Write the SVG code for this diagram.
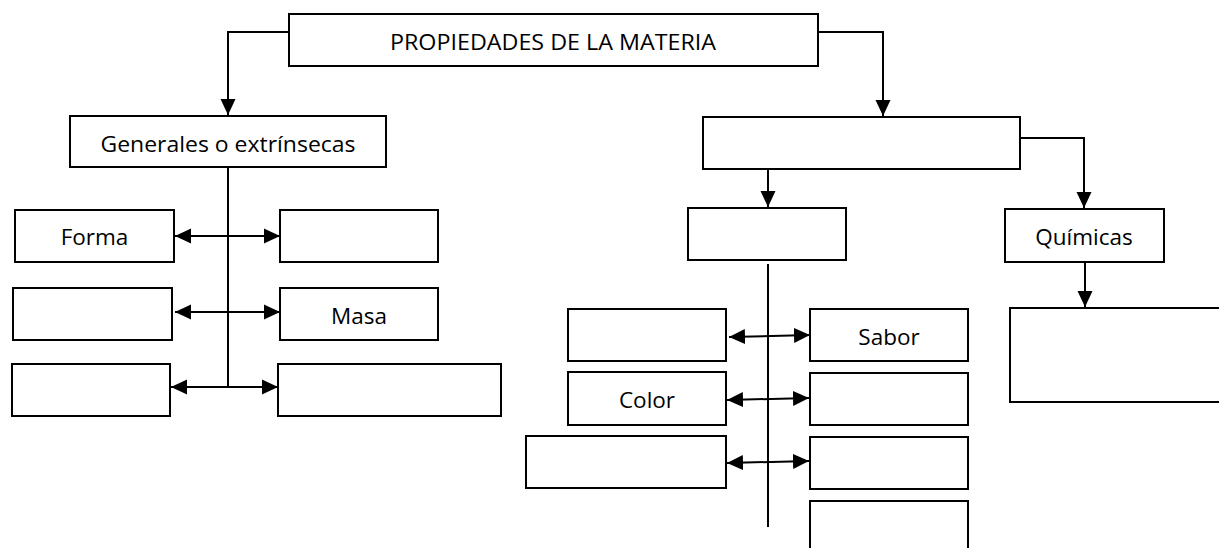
<svg xmlns="http://www.w3.org/2000/svg" width="1219" height="548" viewBox="0 0 1219 548">
<style>
.box{fill:#fff;stroke:#000;stroke-width:2}
.lbl{font-family:"Open Sans","Noto Sans",sans-serif;font-size:22.5px;fill:#000;text-anchor:middle}
.ln{fill:none;stroke:#000;stroke-width:2}
.arr{marker-end:url(#ah)}
.dbl{marker-start:url(#ahs);marker-end:url(#ah)}
</style>
<defs>
<marker id="ah" markerUnits="userSpaceOnUse" markerWidth="17" markerHeight="17" viewBox="0 0 17 17" refX="16" refY="8.5" orient="auto"><path d="M0,1 L16,8.5 L0,16 Z" fill="#000"/></marker>
<marker id="ahs" markerUnits="userSpaceOnUse" markerWidth="17" markerHeight="17" viewBox="0 0 17 17" refX="16" refY="8.5" orient="auto-start-reverse"><path d="M0,1 L16,8.5 L0,16 Z" fill="#000"/></marker>
</defs>
<rect width="1219" height="548" fill="#fff"/>
<g id="connectors">
<path class="ln arr" d="M289,32 H228 V115"/>
<path class="ln arr" d="M818,32 H883 V116"/>
<path class="ln" d="M228,167 V387"/>
<path class="ln dbl" d="M175,236 H280"/>
<path class="ln dbl" d="M175,312 H280"/>
<path class="ln dbl" d="M171,387 H278"/>
<path class="ln arr" d="M768,169 V207"/>
<path class="ln arr" d="M1021,138 H1084 V208"/>
<path class="ln" d="M768,264 V527"/>
<path class="ln dbl" d="M729,337 L810,335"/>
<path class="ln dbl" d="M727,400 L809,398"/>
<path class="ln dbl" d="M727,463 L809,461"/>
<path class="ln arr" d="M1085,258 V307"/>
</g>
<g id="n_top"><rect class="box" x="289" y="14" width="529" height="52"/><text class="lbl" x="553" y="50" textLength="326" lengthAdjust="spacingAndGlyphs">PROPIEDADES DE LA MATERIA</text></g>
<g id="n_generales"><rect class="box" x="70" y="116" width="316" height="51"/><text class="lbl" x="228" y="152" textLength="255" lengthAdjust="spacingAndGlyphs">Generales o extrínsecas</text></g>
<g id="n_forma"><rect class="box" x="15" y="210" width="159" height="52"/><text class="lbl" x="94.5" y="245">Forma</text></g>
<g id="n_g_r1"><rect class="box" x="280" y="210" width="158" height="52"/></g>
<g id="n_g_l2"><rect class="box" x="13" y="288" width="159" height="52"/></g>
<g id="n_masa"><rect class="box" x="280" y="288" width="158" height="52"/><text class="lbl" x="359" y="324">Masa</text></g>
<g id="n_g_l3"><rect class="box" x="12" y="364" width="158" height="52"/></g>
<g id="n_g_r3"><rect class="box" x="278" y="364" width="223" height="52"/></g>
<g id="n_especificas"><rect class="box" x="703" y="117" width="317" height="52"/></g>
<g id="n_fisicas"><rect class="box" x="688" y="208" width="158" height="52"/></g>
<g id="n_quimicas"><rect class="box" x="1005" y="209" width="159" height="53"/><text class="lbl" x="1084" y="245">Químicas</text></g>
<g id="n_q_box"><rect class="box" x="1010" y="308" width="230" height="94"/></g>
<g id="n_f_l1"><rect class="box" x="568" y="309" width="158" height="52"/></g>
<g id="n_sabor"><rect class="box" x="810" y="309" width="158" height="52"/><text class="lbl" x="889" y="345">Sabor</text></g>
<g id="n_color"><rect class="box" x="568" y="372" width="158" height="53"/><text class="lbl" x="647" y="408">Color</text></g>
<g id="n_f_r2"><rect class="box" x="810" y="373" width="158" height="52"/></g>
<g id="n_f_l3"><rect class="box" x="526" y="436" width="200" height="52"/></g>
<g id="n_f_r3"><rect class="box" x="810" y="437" width="158" height="52"/></g>
<g id="n_f_r4"><rect class="box" x="810" y="501" width="158" height="60"/></g>
</svg>
